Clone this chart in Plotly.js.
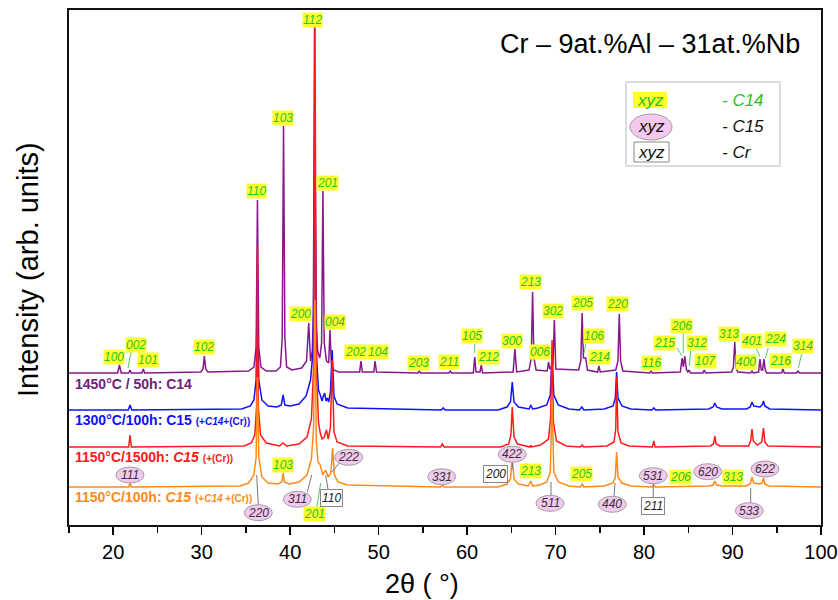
<!DOCTYPE html>
<html><head><meta charset="utf-8">
<script src="https://cdn.plot.ly/plotly-3.0.1.min.js"></script>
<style>body{margin:0;background:#fff}#chart{width:838px;height:600px}</style>
</head><body><div id="chart"></div>
<script>
// ---- DATA (2theta in degrees, intensity above each pattern's own background, arb. units) ----
const tt_1450 = [15,
 20.5,20.7,20.9, 21.75,21.9,22.05, 23.25,23.4,23.55, 29.9,30.15,30.3,30.45,30.7,
 35.3,35.9,36.15,36.3,36.45,36.7,37.3, 38.4,38.9,39.1,39.25,39.4,39.6,40.2,
 41.3,41.85,42.1,42.3,42.5,42.62,42.75,42.88,43.1,43.35,43.55,43.7,43.85,44.1,44.35,44.5,44.65,44.9,45.5,
 47.85,48.0,48.15, 49.45,49.6,49.75, 54.45,54.6,54.75, 57.95,58.1,58.25, 60.7,60.86,61.0, 61.45,61.6,61.75,
 65.2,65.4,65.6, 67.0,67.25,67.4,67.55,67.8, 69.05,69.2,69.35, 69.7,69.86,70.02,
 72.6,72.85,73.0,73.15,73.4,73.6, 74.75,74.9,75.05, 76.8,77.05,77.2,77.35,77.6, 80.65,80.8,80.95,
 84.1,84.3,84.45,84.6,84.8,84.95,85.1,85.25, 86.65,86.8,86.95, 89.9,90.1,90.25,90.4,90.6, 92.05,92.2,92.35,
 92.95,93.1,93.25,93.4,93.55,93.7,93.85, 95.55,95.7,95.85, 97.25,97.4,97.55, 100];
const I_1450 = [0,
 0,8,0, 0,3,0, 0,4,0, 1,4,17,4,1,
 2,6,25,173,25,6,2, 2,6,35,247,35,6,3,
 5,12,50,12,22,60,346,60,22,15,30,182,30,12,10,43,10,3,1,
 1,12,1, 1,12,1, 0,2,0, 0,2,0, 0,16,1, 1,8,0,
 1,24,1, 3,15,81,15,3, 2,11,4, 8,53,4,
 3,12,60,15,15,3, 1,7,1, 3,12,59,12,2, 0,2,0,
 1,15,6,17,3,1,3,0, 0,3,0, 1,6,31,5,1, 0,2,0,
 1,14,3,3,14,3,0, 0,4,0, 0,2,0, 0];

const tt_1300 = [15,
 21.7,21.9,22.1, 34.5,35.5,35.9,36.15,36.3,36.45,36.8,37.5, 38.5,39.0,39.2,39.4,40.0,
 41.0,41.8,42.3,42.6,42.8,43.0,43.2,43.4,43.6,43.75,43.9,44.05,44.2,44.35,44.55,44.75,44.95,45.3,46.5,
 57.1,57.3,57.5, 63.5,64.5,64.9,65.1,65.3,65.8, 67.0,67.2,67.4, 68.0,69.0,69.4,69.6,69.8,70.3,71.5,
 72.7,72.96,73.2, 75.5,76.5,76.75,76.9,77.05,77.5,78.5, 80.9,81.1,81.3, 87.3,87.8,88.0,88.2,88.8,
 91.6,92.0,92.2,92.4,93.1,93.35,93.5,93.65,94.2, 100];
const I_1300 = [0,
 0,5,0, 1,4,10,30,130,30,10,4, 3,5,15,5,4,
 6,14,30,60,260,50,20,15,9,14,17,9,12,8,18,60,14,6,2,
 0,2,0, 0,3,8,28,8,3, 1,5,1, 2,5,15,55,15,5,1,
 0,3,0, 1,4,12,38,12,4,1, 0,2,0, 1,3,7,3,1,
 1,3,8,4,3,5,9,4,1, 0];

const tt_1150_1500 = [15,
 21.75,21.9,22.05, 34.8,35.6,36.0,36.2,36.3,36.4,36.65,37.3, 38.8,39.2,39.6,
 41.0,41.9,42.4,42.65,42.8,42.95,43.2,43.4,43.6,43.85,44.1,44.3,44.55,44.75,44.95,45.3,46.5,
 57.0,57.2,57.4, 63.8,64.7,64.95,65.1,65.3,65.7, 67.1,67.2,67.3, 68.3,69.2,69.45,69.6,69.75,70.1,71.2,
 72.8,73.0,73.2, 75.8,76.6,76.8,76.9,77.05,77.4,78.3, 80.95,81.1,81.25, 87.5,87.85,88.0,88.15,88.6,
 91.8,92.05,92.2,92.35,92.8,93.3,93.5,93.65,94.0, 100];
const I_1150_1500 = [0,
 0,12,0, 1,4,12,40,201,40,12,4, 1,4,1,
 3,10,28,80,420,80,25,14,8,10,17,8,20,87,15,5,1,
 0,3,0, 0,3,12,40,10,3, 0,2,0, 2,8,30,107,25,6,1,
 0,2,0, 1,5,18,70,15,4,1, 0,6,0, 1,3,11,3,1,
 1,6,18,6,2,5,19,5,1, 0];

const tt_1150_100 = [15,
 21.75,21.9,22.05, 34.3,35.3,35.9,36.15,36.3,36.45,36.8,37.5, 38.6,39.05,39.2,39.35,39.9,
 41.0,41.9,42.4,42.65,42.8,42.95,43.15,43.4,43.7,44.0,44.3,44.6,44.8,45.0,45.4,46.5,
 57.0,57.2,57.4, 63.5,64.5,64.9,65.1,65.3,65.8, 66.9,67.2,67.4, 68.2,69.0,69.4,69.6,69.8,70.3,71.5,
 72.8,73.0,73.2, 75.5,76.5,76.75,76.9,77.05,77.5,78.5, 80.9,81.1,81.3, 87.3,87.8,88.0,88.2,88.8,
 91.5,92.0,92.2,92.4,93.1,93.35,93.5,93.65,94.1, 100];
const I_1150_100 = [0,
 0,4,0, 1,4,12,30,110,30,10,4, 3,5,14,5,3,
 5,12,28,60,187,45,25,22,12,17,10,14,39,12,5,2,
 0,2,0, 0,3,8,29,8,3, 1,6,1, 2,5,15,87,15,5,1,
 0,3,0, 1,4,10,35,10,4,1, 0,2,0, 1,2,6,2,1,
 1,3,10,4,3,4,9,3,1, 0];

const xTicks = [20,30,40,50,60,70,80,90,100];
const xMinor = [15,25,35,45,55,65,75,85,95];

// ---- LAYOUT HELPERS ----
const F = 'Liberation Sans, Arial, Helvetica, sans-serif';
const L = 69, R = 821, T = 10, B = 525;
const dx = px => 15 + (px - L) * 85 / (R - L);   // pixel -> 2theta
const dy = py => B - py;                         // pixel -> y units
const pX = px => (px - L) / (R - L);
const pY = py => (B - py) / (B - T);

const series = [
  {x: tt_1450, I: I_1450, off: 152, color: '#85198a'},
  {x: tt_1300, I: I_1300, off: 115, color: '#1010ff'},
  {x: tt_1150_1500, I: I_1150_1500, off: 78, color: '#ff1a1a'},
  {x: tt_1150_100, I: I_1150_100, off: 38, color: '#ff8a1a'}
];
const traces = series.map(s => ({
  type: 'scatter', mode: 'lines', x: s.x, y: s.I.map(v => v + s.off),
  line: {color: s.color, width: 1.5}, hoverinfo: 'skip'
}));

const annotations = [], shapes = [];
const GREEN = '#27c227', YEL = '#ffff2e';
function c14(t, px, py) {
  annotations.push({xref:'x', yref:'y', x: dx(px), y: dy(py), text: '<i>'+t+'</i>', showarrow:false,
    font:{family:F, size:12, color:GREEN}, bgcolor: YEL, borderpad: 0});
}
function c15(t, px, py) {
  shapes.push({type:'circle', xref:'x', yref:'y', xsizemode:'pixel', ysizemode:'pixel',
    xanchor: dx(px), yanchor: dy(py), x0:-14, x1:14, y0:-8, y1:8,
    fillcolor:'#f4c8ef', line:{color:'#a0a0a0', width:1}});
  annotations.push({xref:'x', yref:'y', x: dx(px), y: dy(py), text:'<i>'+t+'</i>', showarrow:false,
    font:{family:F, size:12, color:'#333'}});
}
function cr(t, px, py) {
  annotations.push({xref:'x', yref:'y', x: dx(px), y: dy(py), text:'<i>'+t+'</i>', showarrow:false,
    font:{family:F, size:12, color:'#222'}, bgcolor:'#fff', bordercolor:'#888', borderwidth:1, borderpad:1});
}
function lead(x0, y0, x1, y1, col) {
  shapes.push({type:'line', xref:'x', yref:'y', x0:dx(x0), y0:dy(y0), x1:dx(x1), y1:dy(y1),
    line:{color: col, width: 1}});
}

// leader lines
const GL = '#55cc55', GR = '#777';
lead(131,352,128,368,GL); lead(474.7,344,474.7,353,GL); lead(586,343,584,353,GL);
lead(677,348,682,356,GL); lead(683.3,332,683.3,353,GL); lead(690.7,350,689.3,366,GL);
lead(756,348,760,357,GL); lead(768.3,348,765.3,358,GL); lead(801.7,354,798.3,368,GL);
lead(316.7,508,320.7,483,GL);
lead(340,462,332,472,GR); lead(256.7,475,258.3,505,GR); lead(307.3,492,311.7,475,GR);
lead(328.3,491,325.7,475,GR); lead(512.3,462,512.3,469,GR); lead(551,496,551,482,GR);
lead(614,497,615,483,GR); lead(653.3,483,653.3,499,GR); lead(750.7,503,750.7,488,GR);

// C14 peak labels (top pattern)
[['112',312.3,20],['103',282.7,117.7],['201',327.7,182.7],['110',256,190.7],['200',300,314.3],
 ['004',335.3,321.7],['100',114,356.7],['002',136.3,345],['101',148.3,360],['102',204,347.3],
 ['202',355,352.3],['104',378.3,352.3],['203',418.3,363.3],['211',449.3,361.7],['105',472,335.7],
 ['212',488.7,356.7],['300',512.3,341],['213',530.7,282.3],['006',540,351.7],['302',553.3,310.7],
 ['205',582.3,303.3],['106',594,336],['214',599.3,356.7],['220',617.7,304.3],['116',651,362.7],
 ['215',664,342.7],['206',681.3,325.7],['312',696.7,342.7],['107',705,361],['313',729,334],
 ['400',746,361.7],['401',752.3,340.7],['224',775,339.3],['216',780,361],['314',803.3,346],
 // C14 labels in bottom pattern
 ['103',283.3,465],['201',314,514],['213',530,471],['205',581.7,474.3],['206',680,476.7],['313',732.7,476.7]
].forEach(a => c14(a[0], a[1], a[2]));
// C15 labels
[['111',130,475],['222',348.7,457.3],['220',258.3,512.7],['311',297.3,499.3],['331',441.7,476.7],
 ['422',512.3,454.3],['511',550,503.3],['440',612.3,504.3],['531',653.3,475.7],['620',707.7,471.7],
 ['622',765,469],['533',749.3,510.7]].forEach(a => c15(a[0], a[1], a[2]));
// Cr labels
[['110',331.7,497.7],['200',495.7,474],['211',653.3,506]].forEach(a => cr(a[0], a[1], a[2]));

// sample labels
function sample(txt, py, col) {
  annotations.push({xref:'paper', yref:'paper', x: pX(73), y: pY(py), xanchor:'left', yanchor:'middle',
    text: txt, showarrow:false, font:{family:F, size:14, color:col}});
}
sample('<b>1450°C / 50h: C14</b>', 384, '#72207a');
sample('<b>1300°C/100h: C15 <span style="font-size:10px">(+<i>C14</i>+(Cr))</span></b>', 420, '#1010ff');
sample('<b>1150°C/1500h: <i>C15</i> <span style="font-size:10px">(+(Cr))</span></b>', 457, '#ff1a1a');
sample('<b>1150°C/100h: <i>C15</i> <span style="font-size:10px">(+<i>C14</i> +(Cr))</span></b>', 497, '#ff8a1a');

// composition title
annotations.push({xref:'paper', yref:'paper', x: pX(650), y: pY(44), xanchor:'center', yanchor:'middle',
  text:'Cr – 9at.%Al – 31at.%Nb', showarrow:false, font:{family:F, size:27, color:'#000'}});

// key box
shapes.push({type:'rect', xref:'paper', yref:'paper', x0:pX(626), x1:pX(780), y0:pY(166), y1:pY(82),
  line:{color:'#bbb', width:1}, fillcolor:'#fff'});
shapes.push({type:'rect', xref:'paper', yref:'paper', x0:pX(633), x1:pX(667), y0:pY(108), y1:pY(92),
  line:{width:0}, fillcolor: YEL});
shapes.push({type:'circle', xref:'paper', yref:'paper', x0:pX(630), x1:pX(672), y0:pY(140), y1:pY(114),
  line:{color:'#a0a0a0', width:1}, fillcolor:'#f4c8ef'});
shapes.push({type:'rect', xref:'paper', yref:'paper', x0:pX(634), x1:pX(669), y0:pY(162), y1:pY(142),
  line:{color:'#888', width:1}, fillcolor:'#fff'});
[['xyz',650,100,GREEN],['xyz',651,127,'#111'],['xyz',651,152,'#111']].forEach(a =>
  annotations.push({xref:'paper', yref:'paper', x:pX(a[1]), y:pY(a[2]), xanchor:'center', yanchor:'middle',
    text:'<i>'+a[0]+'</i>', showarrow:false, font:{family:F, size:17, color:a[3]}}));
[['- C14',100,GREEN],['- C15',127,'#111'],['- Cr',152,'#111']].forEach(a =>
  annotations.push({xref:'paper', yref:'paper', x:pX(720), y:pY(a[1]), xanchor:'left', yanchor:'middle',
    text:'<i>'+a[0]+'</i>', showarrow:false, font:{family:F, size:17, color:a[2]}}));

// axis titles
annotations.push({xref:'paper', yref:'paper', x: pX(28), y: pY(270), xanchor:'center', yanchor:'middle',
  text:'Intensity (arb. units)', textangle:-90, showarrow:false, font:{family:F, size:29, color:'#000'}});
annotations.push({xref:'paper', yref:'paper', x: pX(422), y: pY(584), xanchor:'center', yanchor:'middle',
  text:'2θ ( °)', showarrow:false, font:{family:F, size:27, color:'#000'}});

const layout = {
  width: 838, height: 600, margin: {l: L, r: 838 - R, t: T, b: 600 - B},
  paper_bgcolor: '#fff', plot_bgcolor: '#fff', showlegend: false,
  xaxis: {range: [15, 100], tickvals: xTicks, ticktext: xTicks.map(String), ticks: 'outside', ticklen: 8,
    tickwidth: 1.5, tickcolor: '#000', minor: {tickvals: xMinor, ticks: 'outside', ticklen: 6, tickwidth: 1.5, tickcolor: '#000'},
    showline: true, linecolor: '#111', linewidth: 2, mirror: true, showgrid: false, zeroline: false,
    tickfont: {family: F, size: 20, color: '#000'}},
  yaxis: {range: [0, 515], showticklabels: false, ticks: '', showline: true, linecolor: '#111', linewidth: 2,
    mirror: true, showgrid: false, zeroline: false},
  shapes: shapes, annotations: annotations
};
Plotly.newPlot('chart', traces, layout, {displayModeBar: false, staticPlot: true});
</script></body></html>
